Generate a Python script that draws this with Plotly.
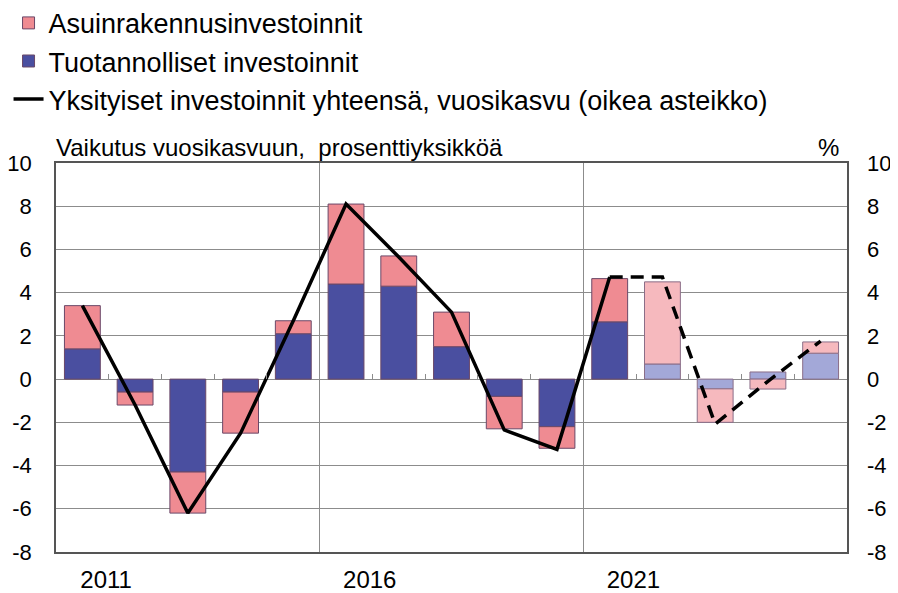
import plotly.graph_objects as go

years = list(range(2011, 2026))
tuotannolliset = [1.4, -0.6, -4.3, -0.6, 2.1, 4.4, 4.3, 1.5, -0.8, -2.2, 2.65, 0.7, -0.45, 0.33, 1.2]
asuinrakennus = [2.0, -0.6, -1.9, -1.9, 0.6, 3.7, 1.4, 1.6, -1.5, -1.0, 2.0, 3.8, -1.55, -0.46, 0.52]
yhteensa = [3.4, -1.2, -6.2, -2.5, 2.7, 8.1, 5.65, 3.1, -2.35, -3.25, 4.72, 4.72, -2.08, -0.1, 1.76]
forecast_start = 2022  # lighter bars from here
dashed_from = 2021     # dashed line from here
x_labels = [2011, 2016, 2021]
y_ticks = [-8, -6, -4, -2, 0, 2, 4, 6, 8, 10]
y_ticktext = [str(v) for v in y_ticks]

BLUE, LBLUE = "#4A4FA0", "#A3A8D8"
PINK, LPINK = "#EF8B92", "#F6B9BE"
OUT_DARK, OUT_LIGHT = "#6A4868", "#8A6E88"
FONT = "Liberation Sans, Arial, sans-serif"

blue_cols = [LBLUE if y >= forecast_start else BLUE for y in years]
pink_cols = [LPINK if y >= forecast_start else PINK for y in years]
outl = [OUT_LIGHT if y >= forecast_start else OUT_DARK for y in years]

fig = go.Figure()
fig.add_trace(go.Bar(x=years, y=tuotannolliset, name="Tuotannolliset investoinnit",
                     marker=dict(color=blue_cols, line=dict(color=outl, width=1)),
                     legendrank=2))
fig.add_trace(go.Bar(x=years, y=asuinrakennus, name="Asuinrakennusinvestoinnit",
                     marker=dict(color=pink_cols, line=dict(color=outl, width=1)),
                     legendrank=1))

solid_x = [y for y in years if y <= dashed_from]
solid_y = [v for y, v in zip(years, yhteensa) if y <= dashed_from]
dash_x = [y for y in years if y >= dashed_from]
dash_y = [v for y, v in zip(years, yhteensa) if y >= dashed_from]

fig.add_trace(go.Scatter(x=solid_x, y=solid_y, mode="lines", yaxis="y2",
                         name="Yksityiset investoinnit yhteensä, vuosikasvu (oikea asteikko)",
                         line=dict(color="black", width=3.5), legendrank=3))
fig.add_trace(go.Scatter(x=dash_x, y=dash_y, mode="lines", yaxis="y2", showlegend=False,
                         line=dict(color="black", width=3.5, dash="13px,8px")))
# invisible helper on x2 so the zero-line tick axis renders
fig.add_trace(go.Scatter(x=[years[0]], y=[0], xaxis="x2", mode="markers",
                         marker=dict(opacity=0), showlegend=False, hoverinfo="skip"))

GRID = "#8C8C8C"
fig.update_layout(
    width=898, height=593,
    margin=dict(l=48, r=59, t=155, b=49, autoexpand=False),
    paper_bgcolor="white", plot_bgcolor="white",
    barmode="relative", bargap=0.32,
    font=dict(family=FONT, size=20, color="black"),
    showlegend=True,
    legend=dict(x=-0.06, y=1.422, xanchor="left", yanchor="top",
                traceorder="normal",
                font=dict(size=27), bgcolor="rgba(0,0,0,0)"),
    xaxis=dict(range=[2010.5, 2025.5], tickvals=[y + 0.45 for y in x_labels],
               ticktext=[str(y) for y in x_labels], ticks="", showgrid=False,
               showline=True, linecolor="#555555", linewidth=1.5, mirror=True,
               ticklabelstandoff=5, tickfont=dict(size=24), zeroline=False,
               automargin=False,
               minor=dict(tickvals=[2015.5, 2020.5], showgrid=True, gridcolor=GRID,
                          gridwidth=1, ticks="")),
    xaxis2=dict(range=[2010.5, 2025.5], overlaying="x", anchor="free", position=8/18,
                tickvals=[y + 0.5 for y in years[:-1]], ticks="inside", ticklen=5,
                tickcolor=GRID, showticklabels=False, showgrid=False, showline=False,
                zeroline=False, automargin=False),
    yaxis=dict(range=[-8, 10], tickvals=y_ticks, ticktext=y_ticktext,
               showgrid=True, gridcolor=GRID, gridwidth=1,
               zeroline=True, zerolinecolor=GRID, zerolinewidth=1.2,
               showline=True, linecolor="#555555", linewidth=1.5, mirror=True,
               ticks="", ticklabelstandoff=18, tickfont=dict(size=22), automargin=False),
    yaxis2=dict(range=[-8, 10], tickvals=y_ticks, ticktext=y_ticktext,
                overlaying="y", side="right",
                showgrid=False, zeroline=False, showline=False, ticks="",
                ticklabelstandoff=19, tickfont=dict(size=22), automargin=False),
    annotations=[
        dict(text="Vaikutus vuosikasvuun,  prosenttiyksikköä", xref="paper", yref="paper",
             x=0.0, y=1.0, xanchor="left", yanchor="bottom", yshift=0, xshift=-2,
             showarrow=False, font=dict(size=24)),
        dict(text="%", xref="paper", yref="paper", x=0.993, y=1.0, xanchor="right",
             yanchor="bottom", yshift=0, showarrow=False, font=dict(size=24)),
    ],
)

fig.write_html("out.html")
